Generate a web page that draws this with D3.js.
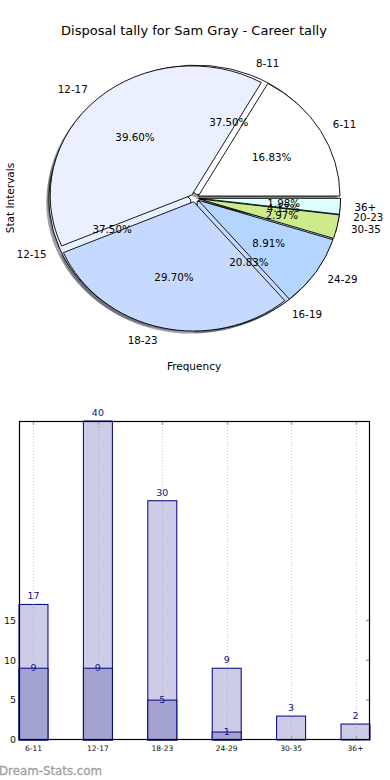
<!DOCTYPE html>
<html>
<head>
<meta charset="utf-8">
<script src="https://cdn.jsdelivr.net/npm/d3@7/dist/d3.min.js"></script>
<style>
  html, body { margin: 0; padding: 0; background: #fff; }
  svg { display: block; font-family: "DejaVu Sans", sans-serif; }
</style>
</head>
<body>
<svg id="chart" width="390" height="780"></svg>
<script>
// ---- data ----
const titleText = "Disposal tally for Sam Gray - Career tally";
const careerCategories = ["6-11", "12-17", "18-23", "24-29", "30-35", "36+"];
const careerValues = [17, 40, 30, 9, 3, 2];
const recentCategories = ["8-11", "12-15", "16-19", "20-23"];
const recentValues = [9, 9, 5, 1];
const barCategories = ["6-11", "12-17", "18-23", "24-29", "30-35", "36+"];
const barCareer = [17, 40, 30, 9, 3, 2];
const barRecent = [9, 9, 5, 1, 0, 0];
const yTickValues = [0, 5, 10, 15];
const pieColors = ["#ffffff", "#eaf0ff", "#c6d9ff", "#b4d5ff", "#cdea8d", "#dcffff"];

const svg = d3.select("#chart");

// ---- title & axis labels ----
svg.append("text").attr("x", 194).attr("y", 35).attr("text-anchor", "middle")
  .attr("font-size", 13).attr("fill", "#000").text(titleText);
svg.append("text").attr("transform", "translate(14,198) rotate(-90)")
  .attr("text-anchor", "middle").attr("font-size", 10.5).attr("fill", "#000").text("Stat Intervals");
svg.append("text").attr("x", 194).attr("y", 370).attr("text-anchor", "middle")
  .attr("font-size", 10.5).attr("fill", "#000").text("Frequency");

// ---- pies ----
const cx = 194.6, cy = 198, rx = 141.7, ry = 129.3, explode = 0.03;
const pieGen = d3.pie().sort(null).startAngle(Math.PI / 2).endAngle(Math.PI / 2 - 2 * Math.PI);
const arcGen = d3.arc().innerRadius(0).outerRadius(1);

function layout(cats, vals) {
  const total = d3.sum(vals);
  return pieGen(vals).map((d, i) => {
    const am = (d.startAngle + d.endAngle) / 2;
    const ux = Math.sin(am), uy = -Math.cos(am);
    return { d, i, cat: cats[i], pct: (vals[i] / total * 100).toFixed(2) + "%",
             ox: explode * ux, oy: explode * uy, ux, uy };
  });
}
const recent = layout(recentCategories, recentValues);
const career = layout(careerCategories, careerValues);

const pieG = svg.append("g").attr("transform", `translate(${cx},${cy}) scale(${rx},${ry})`);
function shade(c) {
  const k = d3.rgb(c);
  return d3.rgb(k.r * 0.3, k.g * 0.3, k.b * 0.3).toString();
}
// shadows
[recent, career].forEach(set => {
  pieG.selectAll(null).data(set).enter().append("path")
    .attr("transform", w => `translate(${w.ox - 0.02},${w.oy + 0.02})`)
    .attr("d", w => arcGen(w.d))
    .attr("fill", w => shade(pieColors[w.i]))
    .attr("fill-opacity", 0.5)
    .attr("stroke", "none");
});
// wedges: recent underneath, career on top
[recent, career].forEach(set => {
  pieG.selectAll(null).data(set).enter().append("path")
    .attr("transform", w => `translate(${w.ox},${w.oy})`)
    .attr("d", w => arcGen(w.d))
    .attr("fill", w => pieColors[w.i])
    .attr("stroke", "#000")
    .attr("stroke-width", 0.9)
    .attr("vector-effect", "non-scaling-stroke");
});
// labels
[recent, career].forEach(set => {
  set.forEach(w => {
    const bx = cx + w.ox * rx, by = cy + w.oy * ry;
    const lx = bx + 1.1 * rx * w.ux, ly = by + 1.1 * ry * w.uy;
    svg.append("text").attr("x", lx).attr("y", ly).attr("dy", "0.35em")
      .attr("text-anchor", lx > cx ? "start" : "end")
      .attr("font-size", 10.3).attr("fill", "#000").text(w.cat);
    const px = bx + 0.6 * rx * w.ux, py = by + 0.6 * ry * w.uy;
    svg.append("text").attr("x", px).attr("y", py).attr("dy", "0.35em")
      .attr("text-anchor", "middle")
      .attr("font-size", 10.3).attr("fill", "#000").text(w.pct);
  });
});

// ---- bar chart ----
const L = 19, R = 370, T = 421, B = 740;
const bw = 0.45;
const x = d3.scaleLinear().domain([-bw / 2, barCategories.length - 1 + bw / 2]).range([L, R]);
const y = d3.scaleLinear().domain([0, 40]).range([B, T]);
const bg = svg.append("g");
const idx = barCategories.map((c, i) => i);

bg.selectAll(null).data(idx).enter().append("rect")
  .attr("x", i => x(i - bw / 2)).attr("width", i => x(i + bw / 2) - x(i - bw / 2))
  .attr("y", i => y(barCareer[i])).attr("height", i => y(0) - y(barCareer[i]))
  .attr("fill", "#ccccE6").attr("stroke", "#000080").attr("stroke-width", 1);
bg.selectAll(null).data(idx.filter(i => barRecent[i] > 0)).enter().append("rect")
  .attr("x", i => x(i - bw / 2)).attr("width", i => x(i + bw / 2) - x(i - bw / 2))
  .attr("y", i => y(barRecent[i])).attr("height", i => y(0) - y(barRecent[i]))
  .attr("fill", "#a3a3d1").attr("stroke", "#000080").attr("stroke-width", 1);

// grid
bg.selectAll(null).data(idx).enter().append("line")
  .attr("x1", i => Math.round(x(i)) + 0.5).attr("x2", i => Math.round(x(i)) + 0.5)
  .attr("y1", T).attr("y2", B)
  .attr("stroke", "#9a9a9a").attr("stroke-opacity", 0.55)
  .attr("stroke-dasharray", "1,2");
// ticks top / bottom
bg.selectAll(null).data(idx).enter().append("line")
  .attr("x1", i => Math.round(x(i)) + 0.5).attr("x2", i => Math.round(x(i)) + 0.5)
  .attr("y1", T).attr("y2", T + 4).attr("stroke", "#aaa").attr("stroke-width", 1.5);
bg.selectAll(null).data(idx).enter().append("line")
  .attr("x1", i => Math.round(x(i)) + 0.5).attr("x2", i => Math.round(x(i)) + 0.5)
  .attr("y1", B).attr("y2", B - 4).attr("stroke", "#aaa").attr("stroke-width", 1.5);
// right ticks
bg.selectAll(null).data(yTickValues).enter().append("line")
  .attr("x1", R).attr("x2", R - 4).attr("y1", v => y(v)).attr("y2", v => y(v))
  .attr("stroke", "#aaa").attr("stroke-width", 1.5);

// frame
bg.append("rect").attr("x", L + 0.5).attr("y", T + 0.5).attr("width", R - L - 1).attr("height", B - T - 1)
  .attr("fill", "none").attr("stroke", "#000").attr("stroke-width", 1.2);

// tick labels
bg.selectAll(null).data(yTickValues).enter().append("text")
  .attr("x", 16).attr("y", v => y(v)).attr("dy", "0.35em").attr("text-anchor", "end")
  .attr("font-size", 9.5).attr("fill", "#111").text(v => v);
bg.selectAll(null).data(idx).enter().append("text")
  .attr("x", i => x(i)).attr("y", B + 11).attr("text-anchor", "middle")
  .attr("font-size", 7.5).attr("fill", "#111").text(i => barCategories[i]);

// value labels
bg.selectAll(null).data(idx).enter().append("text")
  .attr("x", i => x(i)).attr("y", i => y(barCareer[i]) - 5).attr("text-anchor", "middle")
  .attr("font-size", 9.5).attr("fill", "#12128a").text(i => barCareer[i]);
bg.selectAll(null).data(idx.filter(i => barRecent[i] > 0)).enter().append("text")
  .attr("x", i => x(i)).attr("y", i => y(barRecent[i]) + 3).attr("text-anchor", "middle")
  .attr("font-size", 9.5).attr("fill", "#12128a").text(i => barRecent[i]);

// watermark
svg.append("text").attr("x", -1).attr("y", 775).attr("font-size", 11.8)
  .attr("fill", "#a0a0a0").attr("stroke", "#a0a0a0").attr("stroke-width", 0.3)
  .text("Dream-Stats.com");
</script>
</body>
</html>
